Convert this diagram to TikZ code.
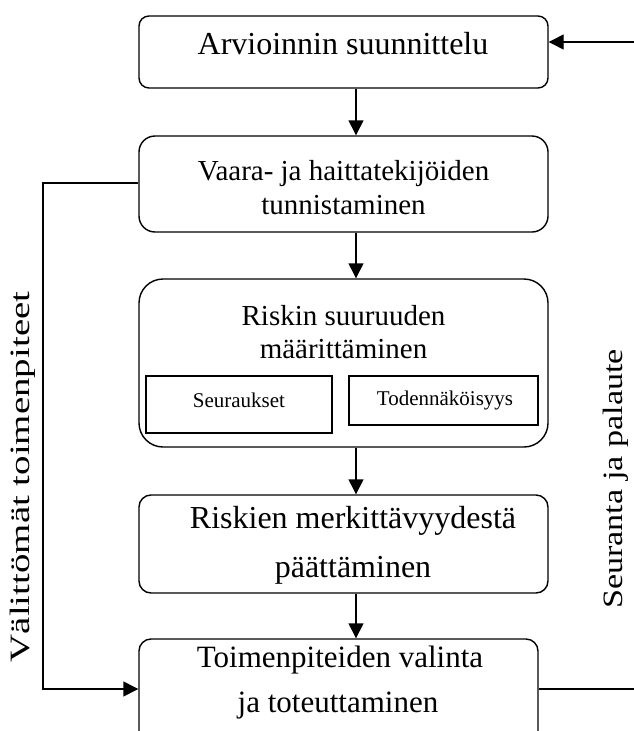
\documentclass[tikz,border=0pt]{standalone}
\usepackage{fontspec}
\setmainfont{Liberation Serif}
\usetikzlibrary{arrows.meta}
\tikzset{
  box/.style={draw, line width=1.4pt, inner sep=0pt, minimum width=409pt},
  sub/.style={draw, line width=1.1pt, inner sep=0pt},
  conn/.style={line width=1.4pt},
  arr/.style={line width=1.4pt, -{Triangle[length=15pt,width=15pt]}},
  lbl/.style={anchor=base, inner sep=0pt},
  big/.style={font=\fontsize{32}{36}\selectfont},
  mid/.style={font=\fontsize{29}{33}\selectfont},
  bot/.style={font=\fontsize{31}{35}\selectfont},
  small/.style={font=\fontsize{21}{24}\selectfont},
}
\begin{document}
\begin{tikzpicture}[x=1pt,y=-1pt]
\useasboundingbox (0,0) rectangle (634,731);
% boxes
\node[box, minimum height=72pt, rounded corners=10pt] (b1) at (343.5,52) {};
\node[box, minimum height=96pt, rounded corners=16pt] (b2) at (343.5,184) {};
\node[box, minimum height=168pt, rounded corners=24pt] (b3) at (343.5,363) {};
\node[box, minimum height=98pt, rounded corners=12pt] (b4) at (343.5,544) {};
\node[box, minimum width=399pt, minimum height=106pt, rounded corners=12pt] (b5) at (338.5,692) {};
\node[sub, minimum width=186pt, minimum height=57pt] (s1) at (239,404.5) {};
\node[sub, minimum width=189pt, minimum height=49pt] (s2) at (443.5,400.5) {};
% texts
\node[lbl, big] (t1) at (343,54) {Arvioinnin suunnittelu};
\node[lbl, mid] (t2a) at (343.5,180) {Vaara- ja haittatekijöiden};
\node[lbl, mid] (t2b) at (343.5,214) {tunnistaminen};
\node[lbl, mid] (t3a) at (343.5,325) {Riskin suuruuden};
\node[lbl, mid] (t3b) at (343.5,358) {määrittäminen};
\node[lbl, small] (ts1) at (239,407) {Seuraukset};
\node[lbl, small] (ts2) at (445,405) {Todennäköisyys};
\node[lbl, big] (t4a) at (353,528) {Riskien merkittävyydestä};
\node[lbl, big] (t4b) at (353,577) {päättäminen};
\node[lbl, bot] (t5a) at (340,667) {Toimenpiteiden valinta};
\node[lbl, bot] (t5b) at (338,712) {ja toteuttaminen};
\node[rotate=90, inner sep=0pt, font=\fontsize{28}{32}\selectfont] (vl) at (23,477) {\scalebox{1.39}[1]{Välittömät toimenpiteet}};
\node[rotate=90, inner sep=0pt, font=\fontsize{28}{32}\selectfont] (vr) at (616,479) {\scalebox{1.22}[1]{Seuranta ja palaute}};
% connectors
\coordinate (ax) at (356,0);
\draw[arr] (b1.south -| ax) -- (b2.north -| ax);
\draw[arr] (b2.south -| ax) -- (b3.north -| ax);
\draw[arr] (b3.south -| ax) -- (b4.north -| ax);
\draw[arr] (b4.south -| ax) -- (b5.north -| ax);
\coordinate (r1) at (634,42);
\coordinate (r2) at (634,689);
\draw[arr] (r1) -- (b1.east |- r1);
\draw[conn] (b5.east |- r2) -- (r2);
\coordinate (l1) at (43,183);
\coordinate (l2) at (43,689);
\draw[arr] (b2.west |- l1) -- (l1) -- (l2) -- (b5.west |- l2);
\end{tikzpicture}
\end{document}
